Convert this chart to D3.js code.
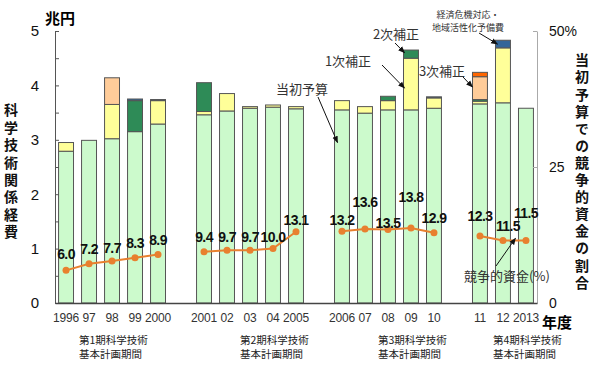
<!DOCTYPE html>
<html>
<head>
<meta charset="utf-8">
<script src="https://cdn.jsdelivr.net/npm/d3@7"></script>
<style>
  body { margin: 0; background: #fff; }
  svg { display: block; }
  .num { font-family: "Liberation Sans", Arial, sans-serif; }
  .jp { font-family: "Noto Sans CJK JP", sans-serif; }
</style>
</head>
<body>
<svg id="chart" width="600" height="371"></svg>
<script>
  // ------------------------------------------------------------
  // Data (兆円 / %)
  // ------------------------------------------------------------
  const years = ["1996", "97", "98", "99", "2000",
                 "2001", "02", "03", "04", "2005",
                 "2006", "07", "08", "09", "10",
                 "11", "12", "2013"];

  const periodYears = [
    ["1996", "97", "98", "99", "2000"],
    ["2001", "02", "03", "04", "2005"],
    ["2006", "07", "08", "09", "10"],
    ["11", "12", "2013"]
  ];
  const periodLabels = [
    ["第1期科学技術", "基本計画期間"],
    ["第2期科学技術", "基本計画期間"],
    ["第3期科学技術", "基本計画期間"],
    ["第4期科学技術", "基本計画期間"]
  ];
  const periodLabelAt = ["98", "04", "09", "2013"];

  const initialBudget = [2.79, 2.99, 3.02, 3.15, 3.29,
                         3.46, 3.53, 3.58, 3.60, 3.57,
                         3.55, 3.49, 3.55, 3.55, 3.58,
                         3.66, 3.68, 3.58];
  const supp1 = [0.16, 0, 0.63, 0, 0.43,
                 0.06, 0.32, 0.03, 0.04, 0.04,
                 0.17, 0.12, 0.17, 0.95, 0.19,
                 0.05, 1.01, 0];
  const supp2 = [0, 0, 0, 0.57, 0,
                 0.53, 0, 0, 0, 0,
                 0, 0, 0.08, 0.15, 0,
                 0.03, 0, 0];
  const supp3 = [0, 0, 0.49, 0, 0,
                 0, 0, 0, 0, 0,
                 0, 0, 0, 0, 0,
                 0.42, 0, 0];
  const suppExtra = [0, 0, 0, 0, 0,
                     0, 0, 0, 0, 0,
                     0, 0, 0, 0, 0,
                     0.08, 0, 0];
  const reserve = [0, 0, 0, 0.03, 0.02,
                   0, 0, 0, 0, 0,
                   0, 0, 0, 0, 0.02,
                   0, 0.14, 0];

  const competitiveShare = [6.0, 7.2, 7.7, 8.3, 8.9,
                            9.4, 9.7, 9.7, 10.0, 13.1,
                            13.2, 13.6, 13.5, 13.8, 12.9,
                            12.3, 11.5, 11.5];

  const leftTicks = [0, 1, 2, 3, 4, 5];
  const rightTicks = [0, 25, 50];

  // label placement tweaks (px above / right of point)
  const labelLift = [16, 15, 13, 15, 15, 15, 13, 13, 12, 12, 11, 27, 7, 31, 15, 20, 14, 27];
  const labelShift = [0, 0, 0, 0, 0, 0, 0, 0, 0, 0, 0, 0, 0, 0, 0, 0, 5, 0];

  const seriesKeys = ["initial", "supp1", "supp2", "supp3", "extra", "reserve"];
  const seriesColors = {
    initial: "#ccfacc",
    supp1: "#ffff99",
    supp2: "#2e8b57",
    supp3: "#ffcc99",
    extra: "#ff6600",
    reserve: "#336699"
  };

  // ------------------------------------------------------------
  // Layout
  // ------------------------------------------------------------
  const svg = d3.select("#chart");
  const plot = { left: 55, right: 537, top: 31, bottom: 303 };

  // band domain with an empty slot between plan periods
  const slots = [];
  periodYears.forEach((ys, i) => {
    if (i > 0) slots.push("gap" + i);
    ys.forEach(y => slots.push(y));
  });

  const x = d3.scaleBand()
    .domain(slots)
    .range([plot.left, plot.right])
    .paddingInner(0.35)
    .paddingOuter(0.155);
  const cx = y => x(y) + x.bandwidth() / 2;

  const yL = d3.scaleLinear().domain([0, 5]).range([plot.bottom, plot.top]);
  const yR = d3.scaleLinear().domain([0, 50]).range([plot.bottom, plot.top]);

  const table = years.map((y, i) => ({
    year: y,
    initial: initialBudget[i],
    supp1: supp1[i],
    supp2: supp2[i],
    supp3: supp3[i],
    extra: suppExtra[i],
    reserve: reserve[i]
  }));

  const stacked = d3.stack().keys(seriesKeys)(table);

  // ------------------------------------------------------------
  // Bars
  // ------------------------------------------------------------
  const barLayer = svg.append("g").attr("class", "bars");
  stacked.forEach(layer => {
    barLayer.selectAll(".seg-" + layer.key)
      .data(layer.filter(d => d[1] - d[0] > 0))
      .enter()
      .append("rect")
      .attr("class", "seg-" + layer.key)
      .attr("x", d => x(d.data.year))
      .attr("y", d => yL(d[1]))
      .attr("width", x.bandwidth())
      .attr("height", d => yL(d[0]) - yL(d[1]))
      .attr("fill", seriesColors[layer.key])
      .attr("stroke", "#555")
      .attr("stroke-width", 1);
  });

  // ------------------------------------------------------------
  // Axes
  // ------------------------------------------------------------
  const leftAxis = d3.axisLeft(yL)
    .tickValues(d3.range(0, 5.01, 0.5))
    .tickSizeInner(-4)
    .tickSizeOuter(0)
    .tickPadding(16)
    .tickFormat(d => leftTicks.includes(d) ? d : "");
  const gL = svg.append("g")
    .attr("transform", `translate(${plot.left},0)`)
    .call(leftAxis);
  gL.select(".domain").attr("stroke", "#555");
  gL.selectAll(".tick line").attr("stroke", "#555");
  gL.selectAll("text").attr("class", "num").attr("font-size", 15).attr("fill", "#111");

  const rightAxis = d3.axisRight(yR)
    .tickValues(rightTicks)
    .tickSizeInner(-4)
    .tickSizeOuter(0)
    .tickPadding(12)
    .tickFormat(d => d === 50 ? "50%" : d);
  const gR = svg.append("g")
    .attr("transform", `translate(${plot.right},0)`)
    .call(rightAxis);
  gR.select(".domain").attr("stroke", "#aaa");
  gR.selectAll(".tick line").attr("stroke", "#aaa");
  gR.selectAll("text").attr("class", "num").attr("font-size", 14).attr("fill", "#111");

  const bottomAxis = d3.axisBottom(x)
    .tickValues(years)
    .tickSize(0)
    .tickPadding(10);
  const gB = svg.append("g")
    .attr("transform", `translate(0,${plot.bottom})`)
    .call(bottomAxis);
  gB.select(".domain").attr("stroke", "#444").attr("stroke-width", 1.5);
  gB.selectAll("text").attr("class", "num").attr("font-size", 12)
    .attr("letter-spacing", -0.2).attr("fill", "#333");

  // period labels (two lines, left aligned)
  periodLabels.forEach((lines, i) => {
    const x0 = cx(periodLabelAt[i]) - 33;
    const t = svg.append("text")
      .attr("class", "jp")
      .attr("x", x0)
      .attr("y", 344)
      .attr("font-size", 10.5)
      .attr("fill", "#222");
    lines.forEach((ln, j) => {
      t.append("tspan")
        .attr("x", x0)
        .attr("dy", j === 0 ? 0 : 14)
        .text(ln);
    });
  });

  // axis titles
  svg.append("text").attr("class", "jp").attr("x", 60).attr("y", 17)
    .attr("text-anchor", "middle").attr("dominant-baseline", "central")
    .attr("font-size", 15).attr("font-weight", "bold").text("兆円");
  svg.append("text").attr("class", "jp").attr("x", 557).attr("y", 321)
    .attr("text-anchor", "middle").attr("dominant-baseline", "central")
    .attr("font-size", 15).attr("font-weight", "bold").text("年度");

  // vertical titles written top to bottom
  function verticalTitle(str, xPos, yStart, step) {
    const size = 14;
    svg.append("text")
      .attr("class", "jp")
      .attr("x", xPos)
      .attr("y", yStart - size / 2)
      .attr("writing-mode", "vertical-rl")
      .attr("font-size", size)
      .attr("font-weight", "bold")
      .attr("letter-spacing", step - size)
      .attr("fill", "#111")
      .text(str);
  }
  verticalTitle("科学技術関係経費", 11, 110, 17.4);
  verticalTitle("当初予算での競争的資金の割合", 582, 60, 17.1);

  // ------------------------------------------------------------
  // Competitive funding share line
  // ------------------------------------------------------------
  const lineColor = "#e8802f";
  const shareData = years.map((y, i) => ({ year: y, v: competitiveShare[i], i }));
  const line = d3.line().x(d => cx(d.year)).y(d => yR(d.v));

  periodYears.forEach(ys => {
    const seg = shareData.filter(d => ys.includes(d.year));
    svg.append("path")
      .datum(seg)
      .attr("d", line)
      .attr("fill", "none")
      .attr("stroke", lineColor)
      .attr("stroke-width", 2);
  });

  svg.selectAll(".pt")
    .data(shareData)
    .enter()
    .append("circle")
    .attr("class", "pt")
    .attr("cx", d => cx(d.year))
    .attr("cy", d => yR(d.v))
    .attr("r", 3.5)
    .attr("fill", lineColor);

  svg.selectAll(".pt-label")
    .data(shareData)
    .enter()
    .append("text")
    .attr("class", "pt-label num")
    .attr("x", d => cx(d.year) + labelShift[d.i])
    .attr("y", d => yR(d.v) - labelLift[d.i])
    .attr("text-anchor", "middle")
    .attr("dominant-baseline", "central")
    .attr("font-size", 14)
    .attr("font-weight", "bold")
    .attr("letter-spacing", -0.6)
    .attr("fill", "#111")
    .text(d => d.v.toFixed(1));

  // ------------------------------------------------------------
  // Annotations
  // ------------------------------------------------------------
  svg.append("defs").append("marker")
    .attr("id", "arrow")
    .attr("viewBox", "0 0 10 10")
    .attr("refX", 9).attr("refY", 5)
    .attr("markerWidth", 7).attr("markerHeight", 7)
    .attr("orient", "auto")
    .append("path")
    .attr("d", "M0,1 L10,5 L0,9 Z")
    .attr("fill", "#111");

  function annotate(lines, tx, ty, size, lineGap, x1, y1, x2, y2) {
    lines.forEach((ln, j) => {
      svg.append("text")
        .attr("class", "jp")
        .attr("x", tx).attr("y", ty + j * lineGap)
        .attr("text-anchor", "middle")
        .attr("dominant-baseline", "central")
        .attr("font-size", size)
        .attr("fill", "#333")
        .text(ln);
    });
    svg.append("line")
      .attr("x1", x1).attr("y1", y1)
      .attr("x2", x2).attr("y2", y2)
      .attr("stroke", "#111")
      .attr("stroke-width", 1)
      .attr("marker-end", "url(#arrow)");
  }

  annotate(["当初予算"], 302, 88, 13, 0, 318, 97, x("2006") + 3, yL(2.95));
  annotate(["1次補正"], 348, 60, 13, 0, 382, 65, x("09") + 1, yL(3.95));
  annotate(["2次補正"], 396, 33, 13, 0, 395, 43, x("09") + 1, yL(4.6));
  annotate(["3次補正"], 442, 70, 13, 0, 463, 77, x("11"), yL(3.97));
  annotate(["経済危機対応・", "地域活性化予備費"], 468, 14, 9, 13, 479, 33, x("12") + 2, yL(4.76));
  annotate(["競争的資金(%)"], 507, 275, 13, 0, 496, 266,
           (cx("12") + cx("2013")) / 2 + 1, yR(11.9));
</script>
</body>
</html>
